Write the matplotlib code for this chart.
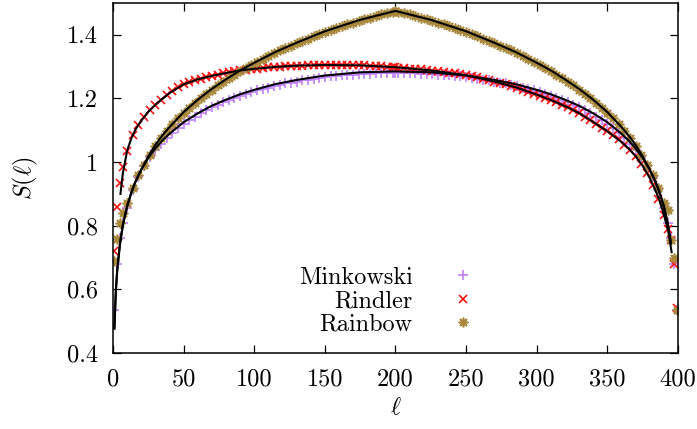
import numpy as np
import matplotlib
matplotlib.use("Agg")
from matplotlib import pyplot as plt

plt.rcParams['font.family'] = 'cmr10'
plt.rcParams['mathtext.fontset'] = 'cm'
plt.rcParams['axes.formatter.use_mathtext'] = True
plt.rcParams['axes.unicode_minus'] = False

### data
# lattice sites where the points are drawn
sites = np.r_[1, 3, 5, 7, 10:199:4, 200, 202:391:4, 393, 395, 397, 399]

mink = [0.535, 0.680, 0.760, 0.810,
        0.855, 0.912, 0.954, 0.988, 1.015, 1.038, 1.058, 1.076, 1.092, 1.107,
        1.120, 1.132, 1.143, 1.153, 1.163, 1.172, 1.180, 1.188, 1.195, 1.202,
        1.208, 1.214, 1.220, 1.225, 1.230, 1.234, 1.239, 1.243, 1.247, 1.250,
        1.253, 1.257, 1.259, 1.262, 1.265, 1.267, 1.269, 1.271, 1.273, 1.274,
        1.275, 1.277, 1.278, 1.278, 1.279, 1.280, 1.280, 1.280,
        1.281,
        1.280, 1.280, 1.280, 1.279, 1.278, 1.278, 1.277, 1.275,
        1.274, 1.273, 1.271, 1.269, 1.267, 1.265, 1.262, 1.259, 1.257, 1.253,
        1.250, 1.247, 1.243, 1.239, 1.234, 1.230, 1.225, 1.220, 1.214, 1.208,
        1.202, 1.195, 1.188, 1.180, 1.172, 1.163, 1.153, 1.143, 1.132, 1.120,
        1.107, 1.092, 1.076, 1.058, 1.038, 1.015, 0.988, 0.954, 0.912, 0.855,
        0.810, 0.760, 0.680, 0.535]

rindler = [0.720, 0.860, 0.935, 0.985,
           1.035, 1.085, 1.118, 1.143, 1.163, 1.180, 1.196, 1.211, 1.224, 1.235,
           1.244, 1.251, 1.257, 1.262, 1.267, 1.271, 1.275, 1.279, 1.282, 1.285,
           1.288, 1.290, 1.292, 1.294, 1.296, 1.298, 1.299, 1.300, 1.301, 1.302,
           1.303, 1.303, 1.304, 1.304, 1.305, 1.305, 1.305, 1.305, 1.305, 1.305,
           1.305, 1.304, 1.304, 1.303, 1.302, 1.301, 1.300, 1.299,
           1.298,
           1.297, 1.295, 1.294, 1.292, 1.291, 1.289, 1.287, 1.285, 1.283, 1.281,
           1.279, 1.276, 1.273, 1.270, 1.266, 1.262, 1.257, 1.253, 1.249, 1.244,
           1.239, 1.233, 1.228, 1.221, 1.215, 1.209, 1.202, 1.195, 1.188, 1.180,
           1.172, 1.163, 1.154, 1.143, 1.132, 1.120, 1.108, 1.097, 1.085, 1.071,
           1.055, 1.038, 1.018, 0.995, 0.965, 0.927, 0.885, 0.835,
           0.790, 0.755, 0.680, 0.540]

rainbow = [0.690, 0.757, 0.810, 0.840,
           0.870, 0.918, 0.958, 0.992, 1.023, 1.052, 1.076, 1.098, 1.119, 1.138,
           1.155, 1.171, 1.187, 1.201, 1.215, 1.228, 1.241, 1.253, 1.264, 1.275,
           1.286, 1.296, 1.306, 1.316, 1.325, 1.333, 1.342, 1.351, 1.359, 1.366,
           1.374, 1.381, 1.388, 1.395, 1.402, 1.409, 1.415, 1.421, 1.428, 1.433,
           1.438, 1.444, 1.450, 1.454, 1.459, 1.464, 1.469, 1.473,
           1.475,
           1.473, 1.469, 1.464, 1.459, 1.454, 1.450, 1.444, 1.438,
           1.433, 1.428, 1.421, 1.415, 1.409, 1.402, 1.395, 1.388, 1.381, 1.374,
           1.366, 1.359, 1.351, 1.342, 1.333, 1.325, 1.316, 1.306, 1.296, 1.286,
           1.275, 1.264, 1.253, 1.241, 1.228, 1.215, 1.201, 1.187, 1.171, 1.155,
           1.138, 1.119, 1.098, 1.076, 1.052, 1.023, 0.992, 0.958, 0.918, 0.870,
           0.848, 0.756, 0.698, 0.535]

# fitted curves (black lines)
fit_l = [1, 2, 3, 5, 7, 10, 13, 16, 20, 25, 30, 35, 40, 50, 60, 70, 80, 90, 100, 115,
         130, 150, 175, 200, 225, 250, 270, 285, 300, 310, 320, 330, 340, 350, 360, 365,
         370, 375, 380, 384, 387, 390, 393, 395]
fit_mink = [0.477, 0.593, 0.660, 0.745, 0.802, 0.861, 0.904, 0.939, 0.976, 1.013,
            1.043, 1.068, 1.089, 1.125, 1.153, 1.177, 1.196, 1.213, 1.227, 1.245,
            1.258, 1.272, 1.282, 1.285, 1.282, 1.272, 1.258, 1.245, 1.227, 1.213,
            1.196, 1.177, 1.153, 1.125, 1.089, 1.068, 1.043, 1.013, 0.976, 0.939,
            0.904, 0.861, 0.802, 0.745]
fit_rainbow = [0.477, 0.593, 0.660, 0.745, 0.802, 0.861, 0.904, 0.939, 0.976, 1.018,
               1.054, 1.084, 1.110, 1.157, 1.196, 1.230, 1.260, 1.288, 1.312, 1.346,
               1.375, 1.411, 1.447, 1.475, 1.447, 1.411, 1.375, 1.346, 1.312, 1.288,
               1.260, 1.230, 1.196, 1.157, 1.110, 1.084, 1.054, 1.018, 0.976, 0.939,
               0.904, 0.861, 0.802, 0.745]
fit_rl = [5.3, 7, 10, 13, 16, 20, 25, 30, 35, 40, 50, 60, 70, 80, 90, 100, 115, 130, 150, 175,
          200, 225, 250, 270, 285, 300, 310, 320, 330, 340, 350, 360, 365, 370, 375, 380,
          384, 387, 390, 393, 395.5]
fit_rindler = [0.900, 0.965, 1.035, 1.075, 1.103, 1.130, 1.158, 1.180, 1.199, 1.217,
               1.244, 1.260, 1.271, 1.280, 1.288, 1.293, 1.299, 1.303, 1.305, 1.304,
               1.298, 1.288, 1.273, 1.253, 1.235, 1.212, 1.195, 1.176, 1.154, 1.126,
               1.097, 1.063, 1.043, 1.018, 0.988, 0.950, 0.912, 0.878, 0.835, 0.785,
               0.717]

xticks = [0, 50, 100, 150, 200, 250, 300, 350, 400]
yticks = [0.4, 0.6, 0.8, 1.0, 1.2, 1.4]
ytick_labels = ['0.4', '0.6', '0.8', '1', '1.2', '1.4']

### plot
fs = 17.5
fig = plt.figure(figsize=(6.97, 4.29), dpi=100)
ax = fig.add_axes([0.1621, 0.1772, 0.8106, 0.8159])

ax.plot(sites, mink, linestyle='none', marker='+', ms=6.5, mew=1.2,
        color='#c080ff', label='Minkowski')
ax.plot(sites, rindler, linestyle='none', marker='x', ms=5.5, mew=1.2,
        color='#ff1010', label='Rindler')
ax.plot(sites, rainbow, linestyle='none', marker=(8, 2, 0), ms=7.0, mew=1.2,
        color='#a8873a', label='Rainbow')

ax.plot(fit_l, fit_mink, color='black', lw=1.5)
ax.plot(fit_rl, fit_rindler, color='black', lw=1.5)
ax.plot(fit_l, fit_rainbow, color='black', lw=1.5)

ax.set_xlim(0, 400)
ax.set_ylim(0.4, 1.5)
ax.set_xticks(xticks)
ax.set_xticklabels([str(t) for t in xticks])
ax.set_yticks(yticks)
ax.set_yticklabels(ytick_labels)
ax.tick_params(direction='in', length=5.5, width=0.9, top=True, right=True,
               labelsize=fs, colors='black')
ax.tick_params(axis='x', pad=11)
ax.tick_params(axis='y', pad=10.5)
for s in ax.spines.values():
    s.set_linewidth(1.1)

ax.set_xlabel(r'$\ell$', fontsize=fs)
ax.set_ylabel(r'$S(\ell)$', fontsize=fs)
ax.xaxis.set_label_coords(0.5, -0.125)
ax.yaxis.set_label_coords(-0.13, 0.5)

ax.legend(loc='upper right', bbox_to_anchor=(0.662, 0.246), frameon=False,
          markerfirst=False, handlelength=2, handletextpad=1.05, labelspacing=0.05,
          borderpad=0, borderaxespad=0, fontsize=fs, numpoints=1)

fig.savefig('out.png', dpi=100)
